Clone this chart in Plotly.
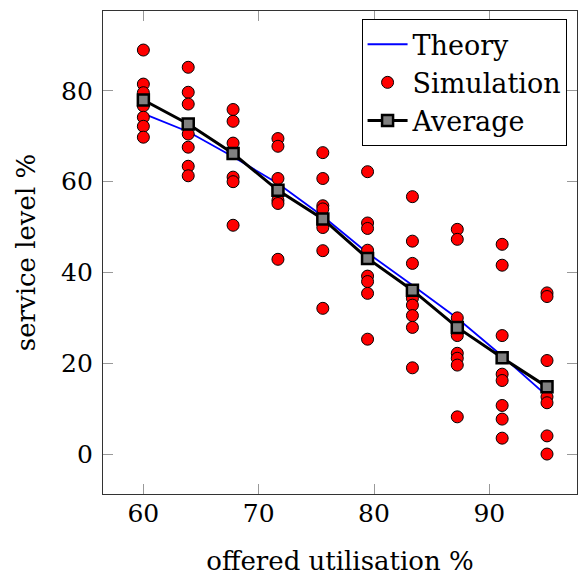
import plotly.graph_objects as go

# x positions of the load levels (offered utilisation %)
loads = [60.0, 63.89, 67.78, 71.67, 75.56, 79.44, 83.33, 87.22, 91.11, 95.0]

theory = [75.0, 71.0, 65.5, 59.6, 52.4, 44.3, 37.2, 29.9, 21.6, 12.8]

sim_values = [
    [89.0, 81.5, 79.6, 76.7, 74.2, 72.2, 69.8],
    [85.2, 79.7, 77.1, 70.5, 67.6, 63.4, 61.3],
    [75.9, 73.3, 68.5, 61.0, 60.0, 50.4],
    [69.5, 67.8, 60.7, 55.9, 55.2, 42.9],
    [66.4, 60.7, 54.7, 54.0, 49.9, 44.8, 32.1],
    [62.2, 50.9, 49.7, 44.9, 39.2, 38.0, 35.4, 25.3],
    [56.7, 46.9, 42.0, 34.3, 32.8, 30.5, 27.9, 19.0],
    [49.5, 47.3, 30.0, 26.1, 22.2, 21.1, 19.6, 8.2],
    [46.2, 41.6, 26.1, 17.6, 16.2, 10.7, 7.7, 3.5],
    [35.5, 34.7, 20.6, 12.6, 11.3, 4.0, 0.0],
]

average = [78.0, 72.7, 66.2, 58.1, 51.8, 43.1, 36.1, 27.9, 21.2, 14.8]

sim_x = [x for x, vals in zip(loads, sim_values) for _ in vals]
sim_y = [v for vals in sim_values for v in vals]

FONT = "DejaVu Serif"

fig = go.Figure()
fig.add_trace(go.Scatter(x=loads, y=theory, mode="lines", name="Theory",
                         line=dict(color="#0000ff", width=1.8)))
fig.add_trace(go.Scatter(x=sim_x, y=sim_y, mode="markers", name="Simulation",
                         marker=dict(color="#ff0000", size=12,
                                     line=dict(color="black", width=1))))
fig.add_trace(go.Scatter(x=loads, y=average, mode="lines+markers", name="Average",
                         line=dict(color="black", width=3),
                         marker=dict(symbol="square", color="#808080", size=11,
                                     line=dict(color="black", width=2.5))))

axis_common = dict(showgrid=False, zeroline=False, showline=True,
                   linecolor="#333333", linewidth=1.2, mirror="ticks",
                   ticks="inside", ticklen=10, tickcolor="#999999", tickwidth=1,
                   automargin=False,
                   tickfont=dict(family=FONT, size=25, color="black"))

fig.update_layout(
    width=579, height=577,
    margin=dict(l=103, r=2, t=11, b=83),
    plot_bgcolor="white", paper_bgcolor="white",
    font=dict(family=FONT, size=26, color="black"),
    showlegend=True,
    legend=dict(x=0.978, y=0.983, xanchor="right", yanchor="top",
                bordercolor="black", borderwidth=1, bgcolor="white",
                font=dict(family=FONT, size=27), tracegroupgap=0,
                itemwidth=40),
    xaxis=dict(range=[56.5, 97.6], tickvals=[60, 70, 80, 90],
               title=dict(text="offered utilisation %", standoff=24,
                          font=dict(family=FONT, size=26)),
               ticklabelstandoff=-3, **axis_common),
    yaxis=dict(range=[-8.8, 97.6], tickvals=[0, 20, 40, 60, 80],
               title=dict(text="service level %", standoff=17,
                          font=dict(family=FONT, size=26)),
               ticklabelstandoff=4, **axis_common),
)

fig.write_html("out.html", config={"displayModeBar": False},
               post_script="document.body.style.margin='0px';document.body.style.overflow='hidden';")
